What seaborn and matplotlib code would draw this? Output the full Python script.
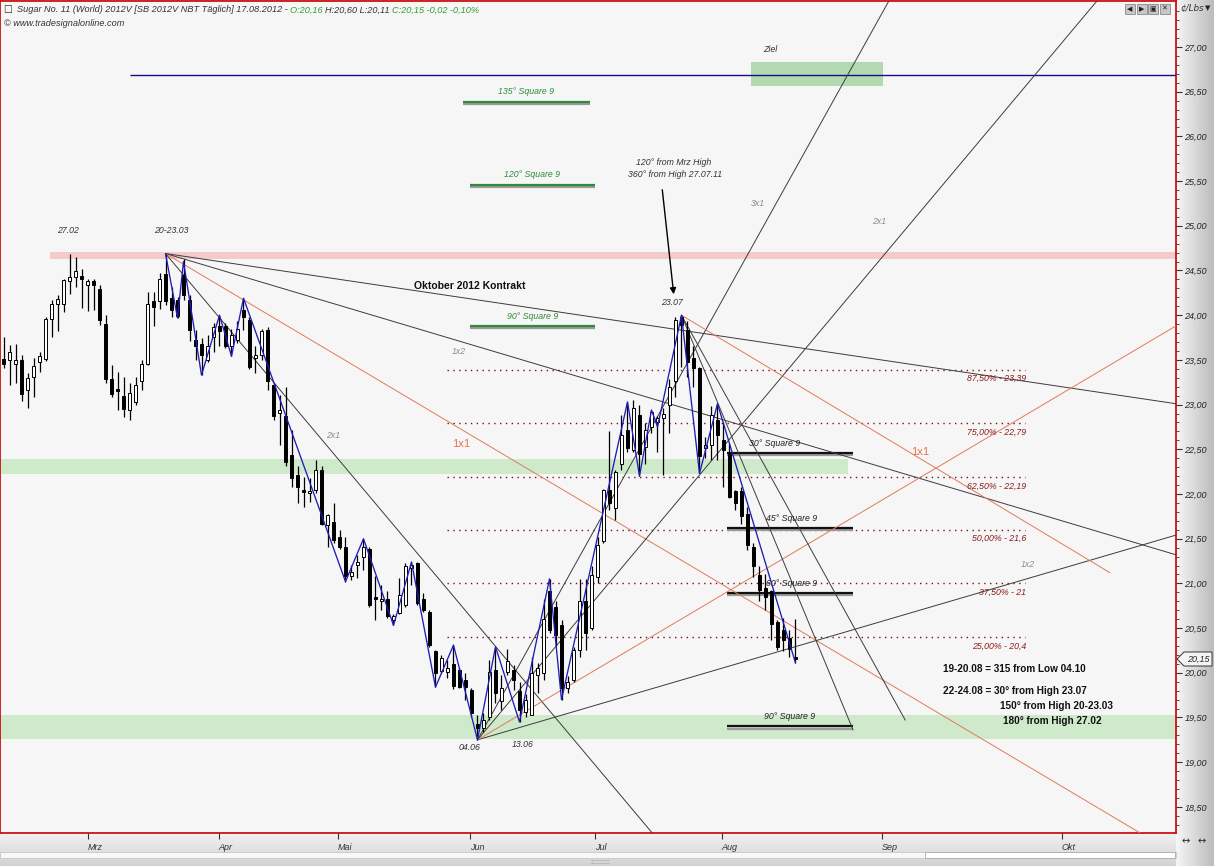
import numpy as np
import pandas as pd
import seaborn as sns
import matplotlib.pyplot as plt
from matplotlib.patches import Rectangle, Polygon
from matplotlib.colors import LinearSegmentedColormap

W, H = 1214, 866

# daily bars, index 0 = 01.03.2012, one step per trading day (first bar = 09.02.2012)
first_bar = -14
opens = [23.51, 23.50, 23.45, 23.50, 23.16, 23.31, 23.48, 23.51, 23.96, 24.12, 24.13, 24.38, 24.43, 24.44,
         24.34, 24.38, 24.29, 23.90, 23.29, 23.16, 23.10, 22.94, 23.03, 23.26, 23.45, 24.16, 24.16, 24.46,
         24.19, 24.17, 24.45, 24.17, 23.72, 23.68, 23.50, 23.76, 23.88, 23.88, 23.65, 23.72, 24.06, 23.95,
         23.52, 23.56, 23.83, 23.22, 22.91, 22.87, 22.44, 22.21, 22.05, 22.01, 22.05, 22.27, 21.65, 21.69,
         21.52, 21.41, 21.08, 21.21, 21.30, 21.39, 20.84, 20.80, 20.82, 20.59, 20.67, 20.76, 21.17, 21.23,
         20.82, 20.68, 20.24, 20.02, 20.01, 20.10, 20.03, 19.92, 19.81, 19.43, 19.38, 19.51, 20.03, 19.68,
         20.01, 20.03, 19.80, 19.56, 19.53, 19.97, 20.00, 20.91, 20.74, 20.54, 19.83, 19.92, 20.25, 20.80,
         20.50, 21.07, 21.47, 22.04, 21.84, 22.34, 22.72, 22.49, 22.88, 22.53, 22.75, 22.81, 22.85, 22.99,
         23.26, 23.98, 23.83, 23.52, 23.41, 22.51, 22.55, 22.83, 22.60, 22.45, 22.03, 22.03, 21.78, 21.41,
         21.09, 20.95, 20.91, 20.57, 20.48, 20.39, 20.16]
highs = [23.76, 23.67, 23.68, 23.55, 23.35, 23.52, 23.59, 23.98, 24.17, 24.23, 24.41, 24.69, 24.65, 24.52,
         24.41, 24.41, 24.34, 24.00, 23.44, 23.37, 23.31, 23.24, 23.31, 23.50, 24.26, 24.26, 24.47, 24.69,
         24.32, 24.20, 24.63, 24.23, 23.83, 23.74, 23.78, 23.91, 24.00, 23.91, 23.85, 23.93, 24.19, 23.98,
         23.65, 23.85, 23.87, 23.24, 23.11, 23.20, 22.72, 22.31, 22.19, 22.18, 22.38, 22.31, 21.78, 21.90,
         21.60, 21.52, 21.21, 21.32, 21.50, 21.41, 21.08, 20.98, 20.91, 20.66, 21.06, 21.23, 21.24, 21.24,
         20.89, 20.70, 20.26, 20.20, 20.14, 20.31, 20.05, 20.00, 19.83, 19.53, 19.55, 20.14, 20.29, 19.97,
         20.27, 20.09, 19.90, 19.76, 20.18, 20.11, 20.82, 21.05, 20.80, 20.59, 19.96, 20.29, 21.05, 21.05,
         21.19, 21.52, 22.06, 22.70, 22.27, 22.88, 23.03, 23.05, 23.00, 22.79, 22.94, 22.87, 22.96, 23.29,
         23.98, 24.00, 23.93, 23.65, 23.42, 22.64, 22.98, 23.01, 22.81, 22.57, 22.04, 22.08, 21.86, 21.45,
         21.19, 21.10, 20.93, 20.59, 20.61, 20.48, 20.60]
lows = [23.41, 23.22, 23.24, 23.04, 22.96, 23.09, 23.37, 23.49, 23.76, 23.82, 24.04, 24.24, 24.32, 24.08,
        24.05, 24.06, 23.89, 23.24, 23.09, 22.94, 22.86, 22.83, 22.99, 23.16, 23.44, 23.88, 24.07, 24.11,
        23.98, 23.97, 24.17, 23.71, 23.50, 23.33, 23.48, 23.59, 23.65, 23.63, 23.54, 23.69, 23.83, 23.40,
        23.35, 23.50, 23.16, 22.83, 22.55, 22.31, 22.08, 21.90, 21.86, 21.91, 22.01, 21.65, 21.41, 21.45,
        21.39, 21.02, 21.04, 21.06, 21.15, 20.74, 20.59, 20.70, 20.61, 20.53, 20.66, 20.74, 20.98, 20.76,
        20.68, 20.29, 19.84, 20.00, 19.94, 19.82, 19.83, 19.70, 19.51, 19.25, 19.34, 19.47, 19.66, 19.58,
        19.98, 19.81, 19.45, 19.50, 19.53, 19.77, 19.92, 20.44, 20.30, 19.70, 19.77, 19.90, 20.18, 20.26,
        20.48, 21.00, 21.45, 21.82, 21.71, 22.27, 22.47, 22.47, 22.20, 22.34, 22.68, 22.47, 22.21, 22.68,
        23.09, 23.42, 23.31, 23.20, 22.23, 22.40, 22.38, 22.38, 22.08, 21.95, 21.82, 21.67, 21.37, 21.07,
        20.80, 20.70, 20.37, 20.26, 20.24, 20.18, 20.11]
closes = [23.45, 23.59, 23.50, 23.12, 23.30, 23.43, 23.54, 23.96, 24.13, 24.18, 24.39, 24.43, 24.49, 24.41,
          24.38, 24.34, 23.95, 23.29, 23.12, 23.15, 22.95, 23.13, 23.22, 23.45, 24.13, 24.09, 24.40, 24.16,
          24.06, 23.99, 24.23, 23.83, 23.65, 23.56, 23.66, 23.87, 23.82, 23.65, 23.78, 23.85, 23.98, 23.42,
          23.56, 23.82, 23.26, 22.87, 22.94, 22.36, 22.18, 22.08, 22.02, 22.03, 22.27, 21.67, 21.77, 21.49,
          21.41, 21.08, 21.13, 21.23, 21.41, 20.76, 20.82, 20.82, 20.63, 20.63, 20.87, 21.19, 21.21, 20.78,
          20.70, 20.31, 20.00, 20.16, 20.05, 19.85, 19.84, 19.84, 19.55, 19.38, 19.47, 20.01, 19.77, 19.83,
          20.13, 19.92, 19.58, 19.70, 20.00, 20.05, 20.60, 20.48, 20.42, 19.83, 19.90, 20.26, 20.80, 20.45,
          21.09, 21.43, 22.04, 21.90, 22.25, 22.66, 22.51, 22.96, 22.45, 22.72, 22.92, 22.85, 22.90, 23.20,
          23.95, 23.89, 23.48, 23.41, 22.42, 22.55, 22.88, 22.66, 22.49, 21.97, 21.90, 21.75, 21.43, 21.19,
          20.93, 20.85, 20.55, 20.29, 20.37, 20.27, 20.15]

month_labels = ['Mrz', 'Apr', 'Mai', 'Jun', 'Jul', 'Aug', 'Sep', 'Okt']
month_pos = [0, 21.9, 41.75, 63.75, 84.6, 105.7, 132.4, 162.4]

# blue swing line (bar index, price)
zig_x = [13, 15, 16, 19, 22, 24, 26, 43, 46, 51, 54, 58, 61, 65, 68, 72, 77, 79, 90, 92, 94, 95, 99,
         102, 105, 118]
zig_y = [24.69, 23.97, 24.60, 23.33, 24.00, 23.54, 24.19, 21.02, 21.50, 20.53, 21.24, 19.84, 20.31,
         19.25, 20.29, 19.45, 21.05, 19.70, 23.03, 22.20, 22.94, 22.75, 24.00, 22.23, 23.01, 20.11]

# gann fan lines: start / end (bar index, price)
fan_x0 = [13, 13, 13, 13, 65, 65, 65, 65, 99, 99, 99]
fan_y0 = [24.69, 24.69, 24.69, 24.69, 19.25, 19.25, 19.25, 19.25, 24.00, 24.00, 24.00]
fan_x1 = [181.4, 181.4, 94.1, 175.4, 181.4, 168.3, 133.6, 181.4, 170.4, 127.6, 136.3]
fan_y1 = [23.01, 21.32, 18.21, 18.21, 21.54, 27.52, 27.52, 23.88, 21.12, 19.36, 19.47]
fan_kind = ['k', 'k', 'k', 'o', 'k', 'k', 'k', 'o', 'o', 'k', 'k']

# retracement levels
fib_levels = [23.39, 22.79, 22.19, 21.60, 21.00, 20.40]
fib_labels = ['87,50% - 23,39', '75,00% - 22,79', '62,50% - 22,19', '50,00% - 21,6', '37,50% - 21', '25,00% - 20,4']

# square 9 levels
sq9_green = [26.39, 25.46, 23.88]
sq9_green_lbl = ['135° Square 9', '120° Square 9', '90° Square 9']
sq9_black = [22.46, 21.62, 20.89, 19.40]
sq9_black_lbl = ['30° Square 9', '45° Square 9', '60° Square 9', '90° Square 9']

pink_band = (24.63, 24.71)
green_band_mid = (22.22, 22.39)
green_band_low = (19.26, 19.53)
ziel_box = (110.6, 132.6, 26.56, 26.83)
blue_level = 26.69

sns.set_theme(style='white')
plt.rcParams['font.family'] = ['Liberation Sans', 'DejaVu Sans']


def bx(px):
    return (px - 87.5) / 6.0


def py2p(py):
    return 27.0 - (py - 47.0) / 89.4


def fx(px):
    return px / W


def fy(py):
    return 1 - py / H


fig = plt.figure(figsize=(W / 100, H / 100), dpi=100)
fig.patch.set_facecolor('#dcdcdc')

# grey gradient strips (price scale and time scale)
ax_r = fig.add_axes([fx(1176), 0, 1 - fx(1176), 1], zorder=0)
ax_r.imshow(np.linspace(0, 1, 60)[None, :], aspect='auto',
            cmap=LinearSegmentedColormap.from_list('g', ['#f6f6f6', '#bcbcbc']), extent=[0, 1, 0, 1])
ax_r.axis('off')
ax_b = fig.add_axes([0, 0, fx(1176), fy(833)], zorder=0)
ax_b.imshow(np.linspace(0, 1, 60)[:, None], aspect='auto',
            cmap=LinearSegmentedColormap.from_list('g2', ['#f2f2f2', '#d2d2d2']), extent=[0, 1, 0, 1])
ax_b.axis('off')
fig.patches.append(Rectangle((0, fy(858)), fx(1176), (858 - 852) / H, transform=fig.transFigure,
                             facecolor='#f8f8f8', edgecolor='#c8c8c8', lw=0.6, zorder=1))
fig.patches.append(Rectangle((fx(925), fy(858)), fx(1175) - fx(925), (858 - 852) / H, transform=fig.transFigure,
                             facecolor='#ffffff', edgecolor='#a8a8a8', lw=0.6, zorder=1))

ax = fig.add_axes([0, fy(833), fx(1176), (833 - 1) / H], zorder=2)
ax.set_facecolor('#f6f6f6')
ax.set_xlim(bx(0), bx(1176))
ax.set_ylim(py2p(833), py2p(1))

# bands and target zone
ax.axhspan(*pink_band, xmin=(bx(50) - bx(0)) / (bx(1176) - bx(0)), color='#f5caca', lw=0, zorder=1)
ax.axhspan(*green_band_mid, xmax=(bx(848) - bx(0)) / (bx(1176) - bx(0)), color='#cfe9cb', lw=0, zorder=1)
ax.axhspan(*green_band_low, color='#cfe9cb', lw=0, zorder=1)
ax.add_patch(Rectangle((ziel_box[0], ziel_box[2]), ziel_box[1] - ziel_box[0], ziel_box[3] - ziel_box[2],
                       facecolor='#b3d9b0', edgecolor='none', zorder=1))
ax.hlines(blue_level, bx(130), bx(1176), color='#10108a', lw=1.0, zorder=3)

# retracement dotted lines
ax.hlines(fib_levels, bx(447), bx(1025), color='#7a1010', lw=1.0, linestyles=(0, (1, 3.2)), zorder=2)
for lv, lb in zip(fib_levels, fib_labels):
    ax.text(bx(1026), lv - 0.1, lb, ha='right', va='center', fontsize=6.3, style='italic', color='#8b1a1a', zorder=4)

# square 9 lines
for lv, lb in zip(sq9_green, sq9_green_lbl):
    x0, x1 = (bx(463), bx(590)) if lv > 26 else (bx(470), bx(595))
    ax.hlines(lv - 0.025, x0, x1, color='#9a9a9a', lw=1.6, zorder=2)
    ax.hlines(lv, x0, x1, color='#2e8b3a', lw=1.6, zorder=3)
    ax.text((x0 + x1) / 2, lv + 0.11, lb, ha='center', va='center', fontsize=6.3, style='italic', color='#2e8b3a')
black_lbl_x = [775, 792, 792, 790]
for lv, lb, lx in zip(sq9_black, sq9_black_lbl, black_lbl_x):
    ax.hlines(lv - 0.025, bx(727), bx(853), color='#9a9a9a', lw=1.6, zorder=2)
    ax.hlines(lv, bx(727), bx(853), color='#111111', lw=1.6, zorder=3)
    ax.text(bx(lx), lv + 0.11, lb, ha='center', va='center', fontsize=6.3, style='italic', color='#222222', zorder=4)

# gann fans
for x0, y0, x1, y1, k in zip(fan_x0, fan_y0, fan_x1, fan_y1, fan_kind):
    ax.plot([x0, x1], [y0, y1], color='#e07a5c' if k == 'o' else '#3c3c3c', lw=0.7, zorder=3)

# candles
bars = pd.DataFrame({'open': opens, 'high': highs, 'low': lows, 'close': closes})
bars['x'] = np.arange(first_bar, first_bar + len(bars))
ax.vlines(bars['x'], bars['low'], bars['high'], color='black', lw=0.9, zorder=5)
body_lo = bars[['open', 'close']].min(axis=1)
body_h = (bars['close'] - bars['open']).abs().clip(lower=0.025)
fill = np.where(bars['close'] >= bars['open'], 'white', 'black')
ax.bar(bars['x'], body_h, bottom=body_lo, width=0.62, color=fill, edgecolor='black', lw=0.7, zorder=6)

# swing line
sns.lineplot(x=zig_x, y=zig_y, sort=False, color='#1e1eb4', lw=0.95, ax=ax, zorder=7)

# chart texts (pixel positions)
small = dict(fontsize=6.3, style='italic', color='#333333', ha='center', va='center')
for s, px, pyy in [('27.02', 68, 231), ('20-23.03', 171, 231), ('23.07', 672, 303), ('04.06', 470, 748),
                   ('13.06', 523, 745), ('Ziel', 770, 50)]:
    ax.text(bx(px), py2p(pyy), s, **small)
ax.text(bx(674), py2p(163), '120° from Mrz High', **small)
ax.text(bx(675), py2p(175), '360° from High 27.07.11', **small)
ax.annotate('', xy=(bx(674), py2p(297)), xytext=(bx(662), py2p(187)),
            arrowprops=dict(arrowstyle='-|>', color='black', lw=1.0, mutation_scale=9))
gray = dict(fontsize=6.3, style='italic', color='#8c8c8c', ha='center', va='center')
for s, px, pyy in [('3x1', 758, 203), ('2x1', 879, 222), ('1x2', 459, 352), ('2x1', 333, 436), ('1x2', 1028, 565)]:
    ax.text(bx(px), py2p(pyy), s, **gray)
for px, pyy in [(461, 444), (920, 452)]:
    ax.text(bx(px), py2p(pyy), '1x1', fontsize=8, color='#e8704a', ha='center', va='center')
ax.text(bx(470), py2p(286), 'Oktober 2012 Kontrakt', fontsize=7.5, fontweight='bold', color='#111111',
        ha='center', va='center')
bold = dict(fontsize=7.2, fontweight='bold', color='#111111', ha='left', va='center')
ax.text(bx(943), py2p(669), '19-20.08 = 315 from Low 04.10', **bold)
ax.text(bx(943), py2p(691), '22-24.08 = 30° from High 23.07', **bold)
ax.text(bx(1000), py2p(706), '150° from High 20-23.03', **bold)
ax.text(bx(1003), py2p(721), '180° from High 27.02', **bold)

# axes styling
for sp in ax.spines.values():
    sp.set_color('#cc1111')
    sp.set_linewidth(1.3)
ax.set_xticks(month_pos)
ax.set_xticklabels(month_labels, ha='left', fontsize=6.5, style='italic', color='#333333')
ax.tick_params(axis='x', bottom=True, direction='out', length=4, width=0.8, color='#333333', pad=3)
ax.yaxis.tick_right()
yt = np.arange(18.5, 27.01, 0.5)
ax.set_yticks(yt)
ax.set_yticklabels([f'{v:.2f}'.replace('.', ',') for v in yt], fontsize=6.5, style='italic', color='#222222')
ax.set_yticks(np.arange(18.3, 27.5, 0.1), minor=True)
ax.tick_params(axis='y', which='major', right=True, direction='out', length=4, width=0.8, color='#333333', pad=2)
ax.tick_params(axis='y', which='minor', right=True, direction='out', length=2.5, width=0.6, color='#333333')
ax.grid(False)
ax.set_xlabel('')
ax.set_ylabel('')
if ax.get_legend():
    ax.get_legend().remove()

# last price tag
tag = Polygon([(fx(1177), fy(659)), (fx(1184), fy(652)), (fx(1212), fy(652)), (fx(1212), fy(666)),
               (fx(1184), fy(666))], closed=True, transform=fig.transFigure, facecolor='#f4f4f4',
              edgecolor='#333333', lw=0.7, zorder=5)
fig.patches.append(tag)
fig.text(fx(1198), fy(659), '20,15', fontsize=6.5, style='italic', ha='center', va='center', zorder=6)
fig.text(fx(1192), fy(9), '¢/Lbs', fontsize=6.3, style='italic', ha='center', va='center', color='#333333',
         zorder=6, family='DejaVu Sans')
fig.text(fx(1208), fy(8), '▼', fontsize=5, ha='center', va='center', color='#222222', zorder=6,
         family='DejaVu Sans')

# small window buttons
for i, s in enumerate(['◀', '▶', '▣', '✕']):
    x0 = 1125 + i * 11.5
    fig.patches.append(Rectangle((fx(x0), fy(14)), 10 / W, 10 / H, transform=fig.transFigure,
                                 facecolor='#c8c8c8', edgecolor='#777777', lw=0.5, zorder=5))
    fig.text(fx(x0 + 5), fy(9), s, fontsize=5, ha='center', va='center', color='#222222', zorder=6,
             family='DejaVu Sans')
fig.text(fx(1186), fy(841), '↔', fontsize=7, ha='center', va='center', family='DejaVu Sans', zorder=6)
fig.text(fx(1202), fy(841), '↔', fontsize=7, ha='center', va='center', family='DejaVu Sans', zorder=6)
fig.text(fx(600), fy(862), '::::::::::', fontsize=5, ha='center', va='center', color='#777777')

# header line, pieces chained by measured width
fig.canvas.draw()
rend = fig.canvas.get_renderer()
title_parts = [('Sugar No. 11 (World) 2012V [SB 2012V NBT Täglich] 17.08.2012 - ', '#333333'),
               ('O:20,16 ', '#2ea02e'), ('H:20,60 L:20,11 ', '#333333'), ('C:20,15 -0,02 -0,10%', '#2ea02e')]
fig.text(fx(8), fy(10), '☐', fontsize=7, ha='center', va='center', family='DejaVu Sans', zorder=6)
xpos = 17
for s, c in title_parts:
    t = fig.text(fx(xpos), fy(10), s, fontsize=6.6, style='italic', color=c, ha='left', va='center', zorder=6)
    xpos += t.get_window_extent(renderer=rend).width
fig.text(fx(4), fy(24), '© www.tradesignalonline.com', fontsize=6.6, style='italic', color='#333333',
         ha='left', va='center', zorder=6)

fig.savefig('out.png', dpi=100, facecolor=fig.get_facecolor())
